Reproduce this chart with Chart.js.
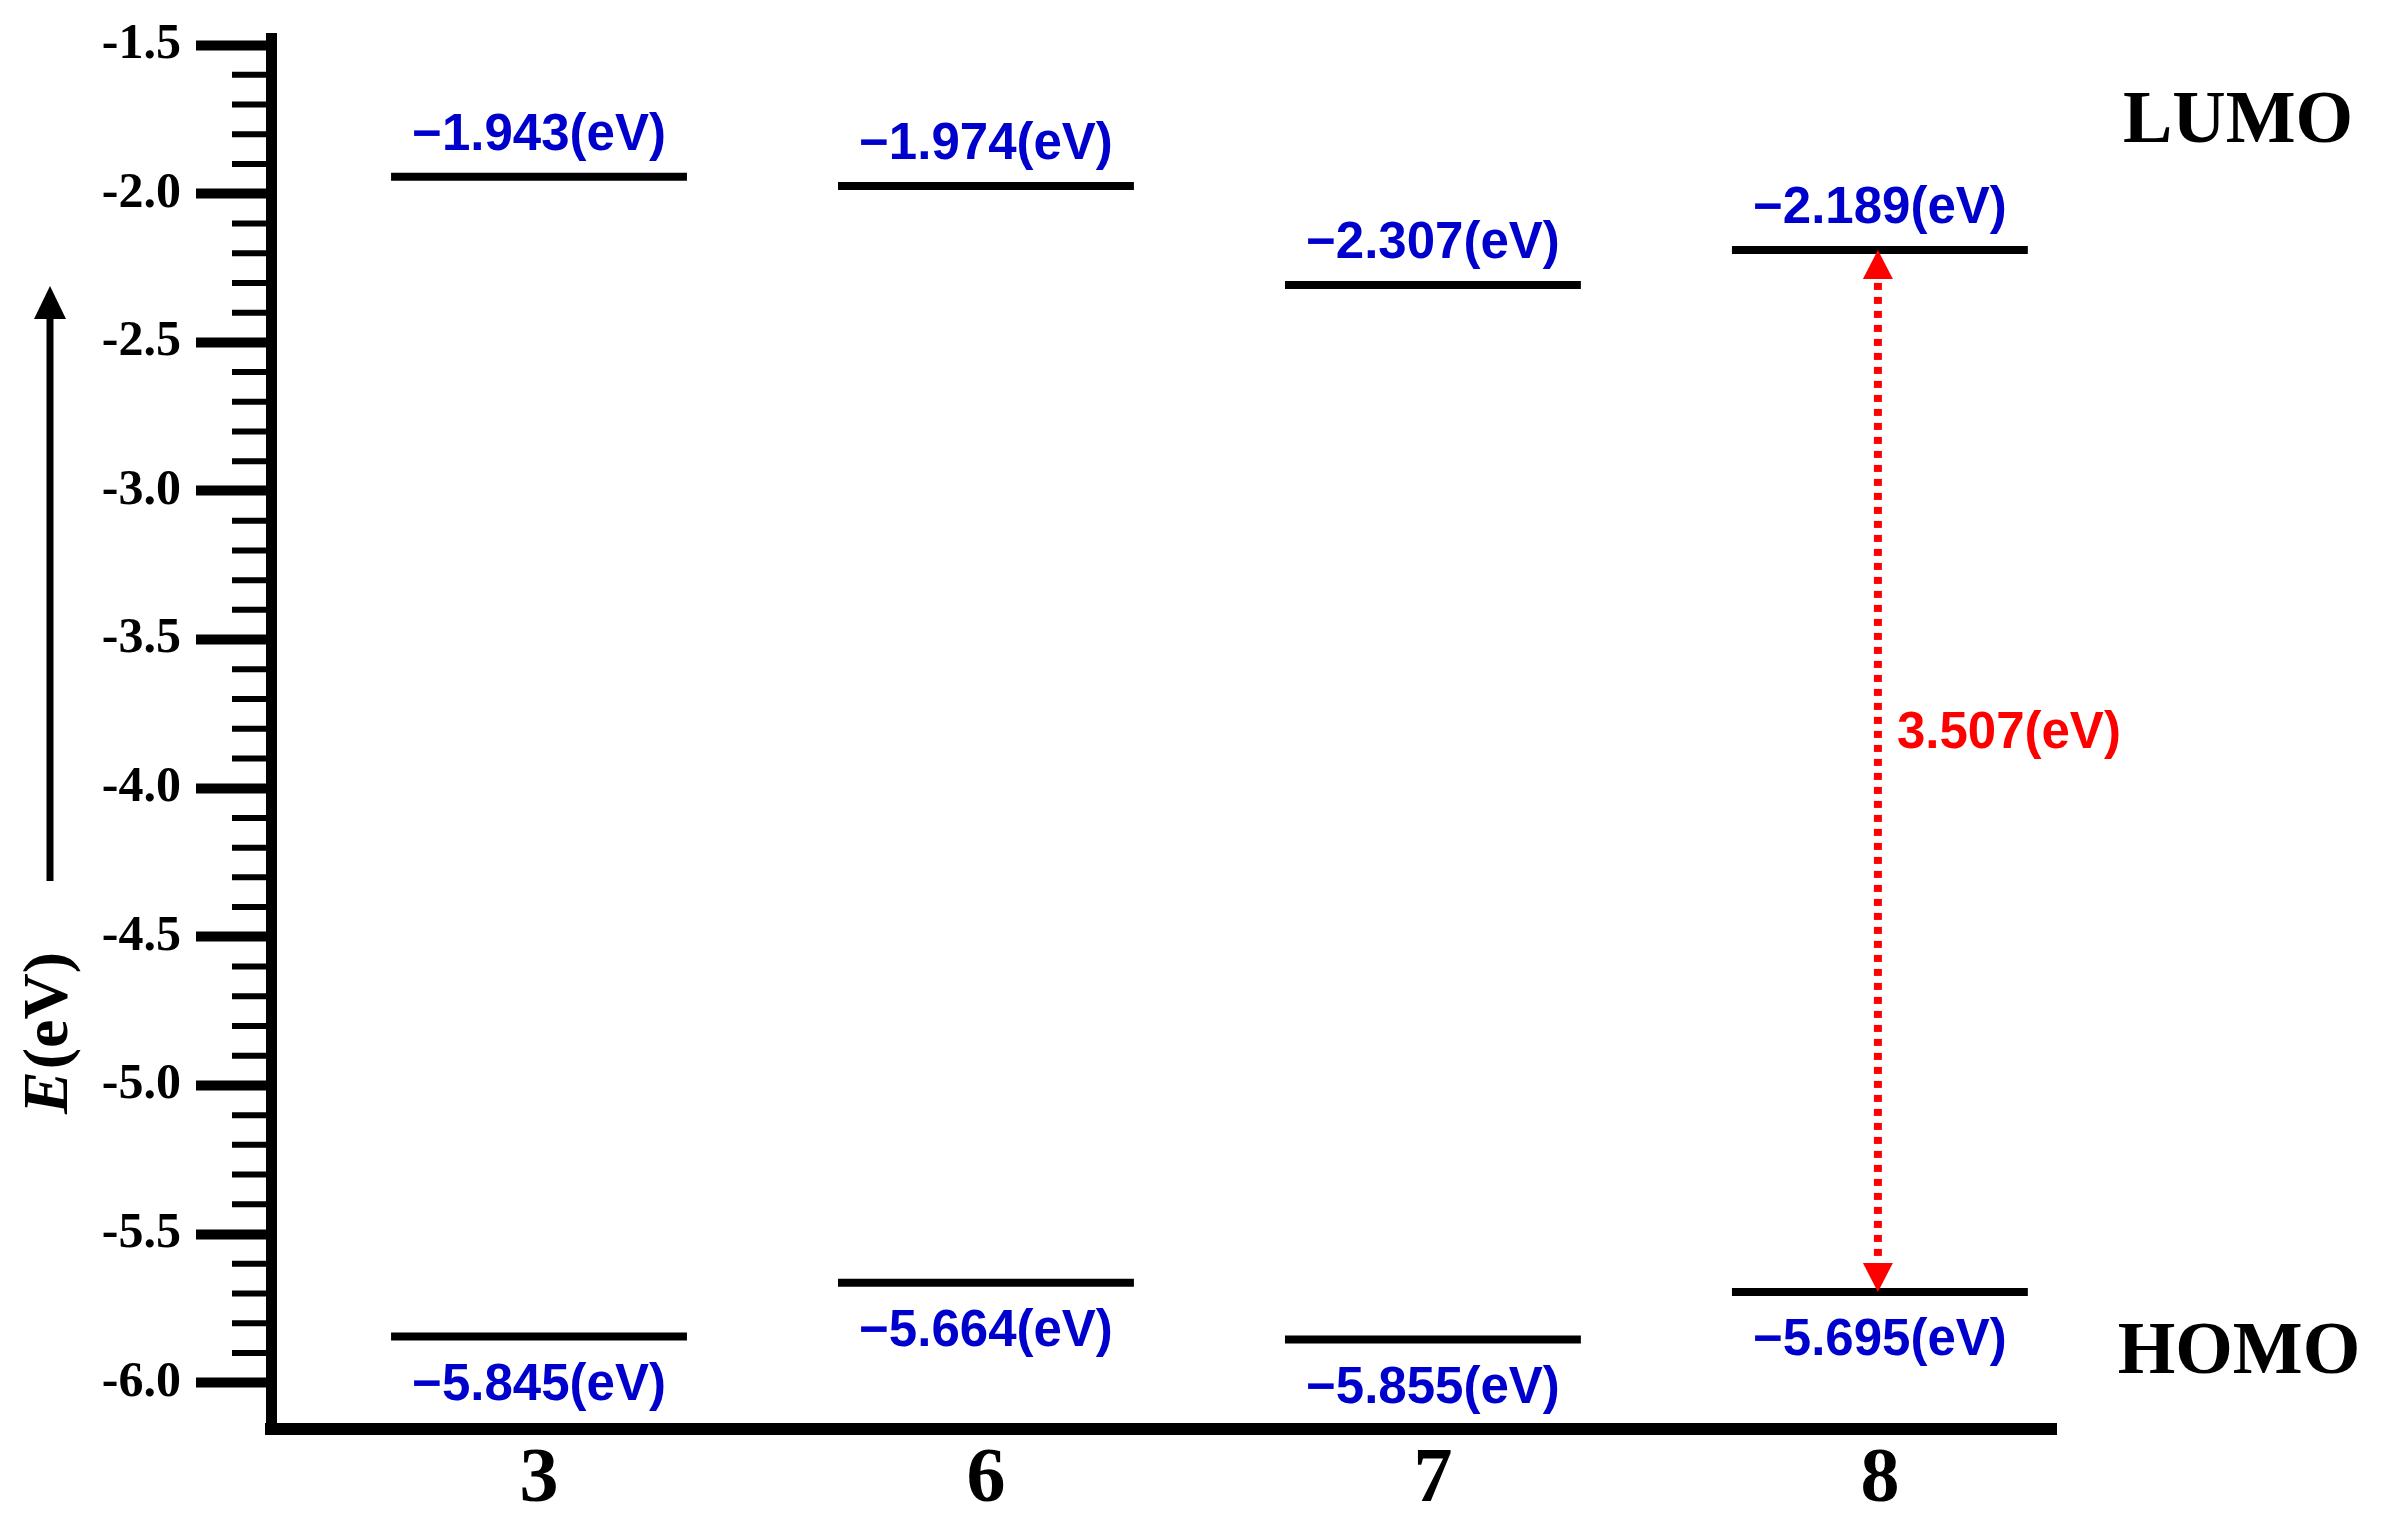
<!DOCTYPE html>
<html>
<head>
<meta charset="utf-8">
<title>HOMO / LUMO energy levels</title>
<script src="https://cdn.jsdelivr.net/npm/chart.js@4.4.1/dist/chart.umd.min.js"></script>
<style>
  html, body { margin: 0; padding: 0; background: #fff; }
  canvas { display: block; }
</style>
</head>
<body>
<canvas id="levels" width="2383" height="1528"></canvas>
<script>
const compounds = ['3', '6', '7', '8'];
const lumo = [-1.943, -1.974, -2.307, -2.189];
const homo = [-5.845, -5.664, -5.855, -5.695];
const yTicks = [-1.5, -2.0, -2.5, -3.0, -3.5, -4.0, -4.5, -5.0, -5.5, -6.0];
const gapIndex = 3;          // the gap arrow sits on compound 8
const gapText = '3.507(eV)';

const BLUE = '#0000cc';
const RED = '#ff0000';
const SERIF = '"Liberation Serif", "Times New Roman", serif';
const SANS = '"Liberation Sans", Arial, sans-serif';
const halfLevel = 0.331;     // half length of a level bar, in category units

function levelDataset(values, i) {
    return {
        data: [
            { x: i + 1 - halfLevel, y: values[i] },
            { x: i + 1 + halfLevel, y: values[i] }
        ],
        showLine: true,
        borderColor: '#000',
        borderWidth: 8,
        borderCapStyle: 'butt',
        pointRadius: 0
    };
}

const datasets = [];
compounds.forEach((c, i) => {
    datasets.push(levelDataset(lumo, i));
    datasets.push(levelDataset(homo, i));
});

const fmt = v => '\u2212' + Math.abs(v).toFixed(3) + '(eV)';

// minor ticks every 0.1 between the labelled ones
const minorTicks = {
    id: 'minorTicks',
    afterDraw(chart) {
        const ctx = chart.ctx;
        const ys = chart.scales.y;
        const x0 = chart.chartArea.left;
        ctx.save();
        ctx.strokeStyle = '#000';
        ctx.lineWidth = 6;
        for (let k = 0; k < yTicks.length - 1; k++) {
            for (let m = 1; m < 5; m++) {
                const v = yTicks[k] - m * 0.1;
                const y = ys.getPixelForValue(v);
                ctx.beginPath();
                ctx.moveTo(x0 - 39, y);
                ctx.lineTo(x0, y);
                ctx.stroke();
            }
        }
        ctx.restore();
    }
};

const annotations = {
    id: 'annotations',
    afterDraw(chart) {
        const ctx = chart.ctx;
        const xs = chart.scales.x;
        const ys = chart.scales.y;
        ctx.save();

        // level values
        ctx.font = `bold 51px ${SANS}`;
        ctx.fillStyle = BLUE;
        ctx.textAlign = 'center';
        ctx.textBaseline = 'alphabetic';
        compounds.forEach((c, i) => {
            const x = xs.getPixelForValue(i + 1);
            ctx.fillText(fmt(lumo[i]), x, ys.getPixelForValue(lumo[i]) - 27);
            ctx.fillText(fmt(homo[i]), x, ys.getPixelForValue(homo[i]) + 63);
        });

        // gap arrow
        const ax = xs.getPixelForValue(gapIndex + 1) - 2;
        const yTop = ys.getPixelForValue(lumo[gapIndex]);
        const yBot = ys.getPixelForValue(homo[gapIndex]);
        const headH = 29, headW = 15;
        ctx.strokeStyle = RED;
        ctx.fillStyle = RED;
        ctx.lineWidth = 8;
        ctx.setLineDash([7, 7]);
        ctx.beginPath();
        ctx.moveTo(ax, yTop + headH + 4);
        ctx.lineTo(ax, yBot - headH - 4);
        ctx.stroke();
        ctx.setLineDash([]);
        ctx.beginPath();
        ctx.moveTo(ax, yTop);
        ctx.lineTo(ax - headW, yTop + headH);
        ctx.lineTo(ax + headW, yTop + headH);
        ctx.closePath();
        ctx.fill();
        ctx.beginPath();
        ctx.moveTo(ax, yBot);
        ctx.lineTo(ax - headW, yBot - headH);
        ctx.lineTo(ax + headW, yBot - headH);
        ctx.closePath();
        ctx.fill();
        ctx.textAlign = 'left';
        ctx.fillText(gapText, ax + 19, (yTop + yBot) / 2 - 23);

        // LUMO / HOMO side labels
        ctx.fillStyle = '#000';
        ctx.font = `bold 74px ${SERIF}`;
        ctx.textAlign = 'center';
        ctx.fillText('LUMO', 2238, 142);
        ctx.fillText('HOMO', 2239, 1373);

        // energy arrow on the left
        ctx.strokeStyle = '#000';
        ctx.fillStyle = '#000';
        ctx.lineWidth = 7;
        ctx.beginPath();
        ctx.moveTo(50, 881);
        ctx.lineTo(50, 316);
        ctx.stroke();
        ctx.beginPath();
        ctx.moveTo(50, 286);
        ctx.lineTo(34, 319);
        ctx.lineTo(66, 319);
        ctx.closePath();
        ctx.fill();

        // axis title E(eV), E in italic
        ctx.translate(67, 1034);
        ctx.rotate(-Math.PI / 2);
        ctx.textAlign = 'left';
        ctx.font = `italic bold 64px ${SERIF}`;
        const wE = ctx.measureText('E').width;
        ctx.font = `bold 64px ${SERIF}`;
        const wR = ctx.measureText('(eV)').width;
        const start = -(wE + wR) / 2;
        ctx.font = `italic bold 64px ${SERIF}`;
        ctx.fillText('E', start, 0);
        ctx.font = `bold 64px ${SERIF}`;
        ctx.fillText('(eV)', start + wE + 2, 0);

        ctx.restore();
    }
};

new Chart(document.getElementById('levels'), {
    type: 'scatter',
    data: { datasets },
    options: {
        responsive: false,
        animation: false,
        devicePixelRatio: 1,
        layout: { padding: { top: 38, right: 327, bottom: 0, left: 0 } },
        plugins: {
            legend: { display: false },
            tooltip: { enabled: false }
        },
        scales: {
            x: {
                type: 'linear',
                min: 0.4004,
                max: 4.394,
                grid: { display: false, drawTicks: false },
                border: { display: true, color: '#000', width: 12 },
                afterBuildTicks: s => { s.ticks = compounds.map((c, i) => ({ value: i + 1 })); },
                afterFit: s => { s.height = 99; s.paddingLeft = 0; s.paddingRight = 0; },
                ticks: {
                    autoSkip: false,
                    maxRotation: 0,
                    padding: 5,
                    color: '#000',
                    font: { family: SERIF, size: 78, weight: 'bold' },
                    callback: v => compounds[Math.round(v) - 1]
                }
            },
            y: {
                min: -6.156,
                max: -1.476,
                grid: {
                    display: true,
                    drawOnChartArea: false,
                    drawTicks: true,
                    tickLength: 75,
                    tickWidth: 10,
                    tickColor: '#000'
                },
                border: { display: true, color: '#000', width: 11 },
                afterBuildTicks: s => { s.ticks = yTicks.map(v => ({ value: v })); },
                afterFit: s => { s.width = 271; s.paddingTop = 0; s.paddingBottom = 0; },
                ticks: {
                    autoSkip: false,
                    padding: 15,
                    color: '#000',
                    font: { family: SERIF, size: 50, weight: 'bold' },
                    callback: v => v.toFixed(1)
                }
            }
        }
    },
    plugins: [minorTicks, annotations]
});
</script>
</body>
</html>
